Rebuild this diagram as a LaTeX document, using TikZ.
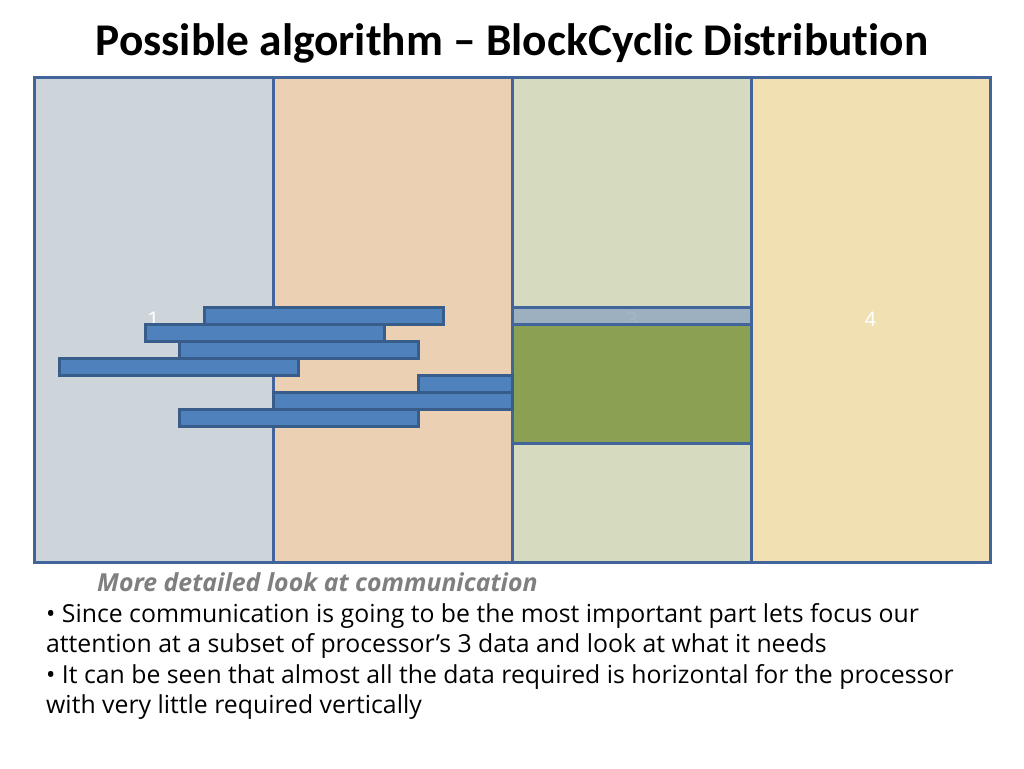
\documentclass[tikz,border=0pt]{standalone}
\usepackage{fontspec}
\setmainfont{Carlito}[Ligatures=NoCommon]
\newfontfamily\bodyfont{Open Sans}
\newfontfamily\numfont{Liberation Sans}
\definecolor{edgeblue}{HTML}{41659A}
\definecolor{barblue}{HTML}{4F81BD}
\definecolor{bardark}{HTML}{385D8A}
\definecolor{procA}{HTML}{CDD5DB}
\definecolor{procB}{HTML}{EBD0B4}
\definecolor{procC}{HTML}{D6DBC0}
\definecolor{procD}{HTML}{F0E0B2}
\definecolor{halo}{HTML}{93A9C0}
\definecolor{ownblk}{HTML}{8BA052}
\definecolor{subgrey}{HTML}{7F7F7F}
\begin{document}
\begin{tikzpicture}[x=1pt,y=-1pt,
    proc/.style={draw=edgeblue,line width=3pt,minimum width=239pt,minimum height=485pt,
      inner sep=0pt,text=white,font=\numfont\fontsize{21}{21}\selectfont},
    bar/.style={draw=bardark,line width=3pt,fill=barblue,minimum width=239pt,minimum height=17pt,inner sep=0pt},
    line/.style={anchor=base west,inner sep=0pt,font=\bodyfont\fontsize{24.8}{24.8}\selectfont}]
  \useasboundingbox (0,0) rectangle (1024,768);
  \node[anchor=base,inner sep=0pt,font=\bfseries\fontsize{45.4}{45.4}\selectfont] (title) at (512,56) {Possible algorithm -- BlockCyclic Distribution};
  % the four processors
  \node[proc,fill=procA] (1) at (153.5,319.5) {1};
  \node[proc,fill=procB] (2) at (392.5,319.5) {2};
  \node[proc,fill=procC] (3) at (631.5,319.5) {3};
  \node[proc,fill=procD] (4) at (870.5,319.5) {4};
  % block of processor 3
  \node[draw=edgeblue,line width=3pt,fill=halo,fill opacity=0.85,draw opacity=1,minimum width=239pt,minimum height=17pt,inner sep=0pt] (halo) at (631.5,315.5) {};
  \node[draw=edgeblue,line width=3pt,fill=ownblk,minimum width=239pt,minimum height=119pt,inner sep=0pt] (own) at (631.5,383.5) {};
  % rows needed
  \node[bar] (b1) at (324,315.5) {};
  \node[bar] (b2) at (264.5,332.5) {};
  \node[bar] (b3) at (298.5,349.5) {};
  \node[bar] (b4) at (179,366.5) {};
  \node[bar,minimum width=94pt] (b5) at (465,383.5) {};
  \node[bar] (b6) at (392.5,400.5) {};
  \node[bar] (b7) at (298.5,417.5) {};
  % text
  \node[line,font=\bodyfont\bfseries\itshape\fontsize{24.8}{24.8}\selectfont,text=subgrey] (sub) at (97,591) {More detailed look at communication};
  \node[line] (t1) at (46,622) {\textbullet\ Since communication is going to be the most important part lets focus our};
  \node[line] (t2) at (46,652.5) {attention at a subset of processor’s 3 data and look at what it needs};
  \node[line] (t3) at (46,683) {\textbullet\ It can be seen that almost all the data required is horizontal for the processor};
  \node[line] (t4) at (46,713.5) {with very little required vertically};
\end{tikzpicture}
\end{document}
